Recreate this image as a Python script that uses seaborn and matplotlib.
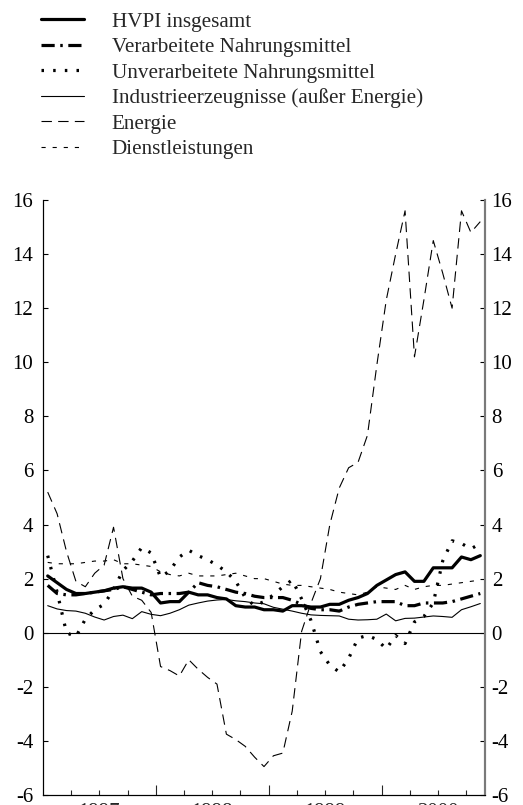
import numpy as np
import pandas as pd
import matplotlib
matplotlib.use("Agg")
import matplotlib.pyplot as plt
import seaborn as sns

# ---------------- data (annual % changes, monthly Jan 1997 - Nov 2000) ----------------
months = pd.period_range("1997-01", "2000-11", freq="M")

hvpi = [2.1, 1.85, 1.6, 1.45, 1.45, 1.5, 1.55, 1.65, 1.7, 1.65, 1.65, 1.5,
        1.1, 1.15, 1.15, 1.5, 1.4, 1.4, 1.3, 1.25, 1.0, 0.95, 0.95, 0.85,
        0.85, 0.8, 1.0, 1.0, 0.95, 0.95, 1.05, 1.05, 1.2, 1.3, 1.45, 1.75,
        1.95, 2.15, 2.25, 1.9, 1.9, 2.4, 2.4, 2.4, 2.8, 2.7, 2.85]

verarbeitet = [1.75, 1.45, 1.4, 1.4, 1.45, 1.5, 1.55, 1.6, 1.7, 1.6, 1.5, 1.4,
               1.45, 1.45, 1.45, 1.5, 1.85, 1.75, 1.7, 1.6, 1.5, 1.45, 1.35, 1.3,
               1.3, 1.3, 1.2, 1.05, 0.9, 0.85, 0.85, 0.8, 0.95, 1.05, 1.1, 1.15,
               1.15, 1.15, 1.0, 1.0, 1.1, 1.1, 1.1, 1.15, 1.25, 1.35, 1.45]

unverarbeitet = [2.85, 1.5, 0.0, -0.15, 0.5, 0.85, 1.05, 1.6, 2.3, 2.65, 3.15, 2.95,
                 2.05, 2.3, 2.8, 3.05, 2.85, 2.7, 2.5, 2.25, 1.9, 1.3, 1.0, 1.15,
                 1.4, 1.7, 1.95, 1.25, 0.45, -0.7, -1.2, -1.45, -0.95, -0.2, -0.1, -0.25,
                 -0.6, -0.1, -0.4, 0.4, 0.6, 1.1, 2.65, 3.4, 3.3, 3.1, 3.3]

industrie = [1.0, 0.88, 0.82, 0.8, 0.72, 0.58, 0.47, 0.6, 0.65, 0.52, 0.78, 0.68,
             0.63, 0.72, 0.85, 1.02, 1.1, 1.17, 1.21, 1.23, 1.18, 1.15, 1.1, 1.07,
             0.94, 0.87, 0.8, 0.72, 0.66, 0.64, 0.63, 0.62, 0.5, 0.47, 0.48, 0.5,
             0.69, 0.44, 0.53, 0.54, 0.58, 0.62, 0.6, 0.57, 0.85, 0.96, 1.08]

energie = [5.2, 4.4, 3.0, 1.9, 1.7, 2.2, 2.5, 3.9, 2.0, 1.35, 1.2, 0.75,
           -1.25, -1.4, -1.6, -1.0, -1.35, -1.65, -1.9, -3.75, -3.95, -4.2, -4.6, -4.95,
           -4.55, -4.45, -2.9, 0.05, 1.1, 2.0, 4.0, 5.35, 6.1, 6.3, 7.3, 9.9,
           12.3, 14.0, 15.6, 10.2, 12.3, 14.5, 13.3, 12.0, 15.6, 14.8, 15.2]

dienst = [2.6, 2.55, 2.55, 2.55, 2.6, 2.65, 2.65, 2.7, 2.55, 2.55, 2.5, 2.45,
          2.25, 2.15, 2.1, 2.2, 2.1, 2.1, 2.1, 2.15, 2.2, 2.1, 2.0, 2.0,
          1.9, 1.8, 1.75, 1.75, 1.7, 1.65, 1.6, 1.5, 1.45, 1.4, 1.5, 1.7,
          1.65, 1.6, 1.75, 1.6, 1.7, 1.75, 1.75, 1.8, 1.85, 1.9, 1.95]

labels = ["HVPI insgesamt", "Verarbeitete Nahrungsmittel", "Unverarbeitete Nahrungsmittel",
          "Industrieerzeugnisse (außer Energie)", "Energie", "Dienstleistungen"]
years = ["1997", "1998", "1999", "2000"]
y_ticks = [-6, -4, -2, 0, 2, 4, 6, 8, 10, 12, 14, 16]

# ---------------- styling ----------------
sns.set_style("white")
plt.rcParams["font.family"] = ["Liberation Serif", "DejaVu Serif"]
plt.rcParams["axes.unicode_minus"] = False
plt.rcParams["lines.scale_dashes"] = False

styles = [
    dict(lw=2.3, ls="-"),
    dict(lw=2.3, ls=(0, (9.5, 4.0, 1.8, 4.0))),
    dict(lw=2.3, ls=(0, (1.8, 6.6))),
    dict(lw=0.8, ls="-"),
    dict(lw=0.8, ls=(0, (7.5, 4.5))),
    dict(lw=0.8, ls=(0, (3.0, 5.0))),
]

fig = plt.figure(figsize=(5.23, 8.05), dpi=100)
ax = fig.add_axes([43 / 523, 10 / 805, 442 / 523, 595 / 805])

x = np.arange(len(months)) + 0.5
series = [hvpi, verarbeitet, unverarbeitet, industrie, energie, dienst]
for vals, lab, st in zip(series, labels, styles):
    df = pd.DataFrame({"x": x, "y": vals})
    sns.lineplot(data=df, x="x", y="y", ax=ax, color="black", lw=st["lw"],
                 linestyle=st["ls"], label=lab, legend=False)

ax.axhline(0, color="black", lw=0.8)

ax.set_xlim(0, len(months))
ax.set_ylim(-6, 16)
ax.set_xlabel("")
ax.set_ylabel("")

# left y axis
ax.set_yticks(y_ticks)
ax.set_yticklabels([str(v) for v in y_ticks])
ax.tick_params(axis="y", which="both", left=True, right=False, labelleft=True,
               labelright=False, direction="in", length=3.6, width=0.8,
               labelsize=15, colors="black", pad=7)

# right y axis (mirror)
ax2 = ax.twinx()
ax2.set_ylim(-6, 16)
ax2.set_yticks(y_ticks)
ax2.set_yticklabels([str(v) for v in y_ticks])
ax2.tick_params(axis="y", which="both", left=False, right=True, labelleft=False,
                labelright=True, direction="in", length=3.6, width=0.8,
                labelsize=15, colors="black", pad=4.8)
ax2.grid(False)

# x axis: year boundaries (major), quarters (minor, carry year labels at mid-year)
year_bounds = [12, 24, 36]
quarters = [q for q in range(3, len(months), 3) if q not in year_bounds]
ax.set_xticks(year_bounds)
ax.set_xticklabels([""] * len(year_bounds))
ax.set_xticks(quarters, minor=True)
minor_labels = []
for q in quarters:
    if q % 12 == 6:
        minor_labels.append(years[q // 12])
    else:
        minor_labels.append("")
ax.set_xticklabels(minor_labels, minor=True)
ax.tick_params(axis="x", which="major", direction="in", length=7.2, width=0.8,
               bottom=True)
ax.tick_params(axis="x", which="minor", direction="in", length=3.6, width=0.8,
               bottom=True, labelsize=15, pad=5.8)

for a in (ax, ax2):
    for s in ["left", "bottom"]:
        a.spines[s].set_color("black")
        a.spines[s].set_linewidth(0.8)
    a.spines["top"].set_visible(False)
    a.spines["right"].set_color("#7a7a7a")
    a.spines["right"].set_linewidth(1.5)

handles = ax.get_lines()[:6]
fig.legend(handles, labels, loc="upper left", bbox_to_anchor=(41 / 523, 1 - 12 / 805),
           frameon=False, fontsize=15.2, handlelength=2.05, handletextpad=1.3,
           labelspacing=0.27, borderpad=0, borderaxespad=0)

fig.savefig("out.png", dpi=100)
